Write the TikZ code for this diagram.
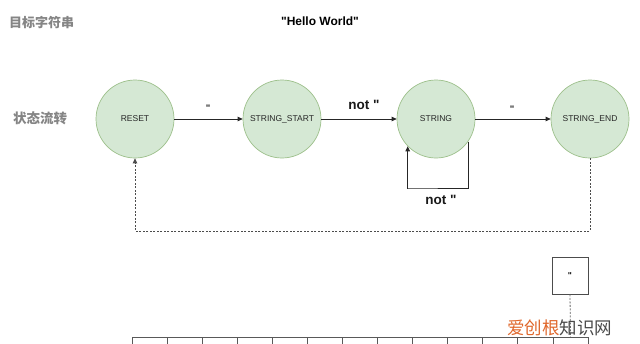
\documentclass[tikz,border=0pt]{standalone}
\usepackage{fontspec}
\setmainfont{Liberation Sans}[Ligatures=TeXOff]
\newfontfamily\cjk{Noto Sans CJK SC}
\usetikzlibrary{arrows.meta}
\definecolor{stfill}{HTML}{D5E8D4}
\definecolor{stdraw}{HTML}{9DC08B}
\definecolor{titlegray}{HTML}{858585}
\definecolor{wmorange}{HTML}{E0672B}
\definecolor{wmgray}{HTML}{4A4A4A}
\begin{document}
\begin{tikzpicture}[x=1pt,y=-1pt,
  state/.style={circle,draw=stdraw,fill=stfill,line width=0.7pt,minimum size=78pt,inner sep=0pt,font=\fontsize{8.5}{10}\selectfont,text=black!85},
  flow/.style={draw=black!85,line width=0.8pt,-{Triangle[length=5pt,width=4.5pt]}},
  ret/.style={draw=black!70,line width=0.8pt,dash pattern=on 2pt off 1.5pt,-{Triangle[length=5pt,width=4.5pt]}},
  link/.style={draw=black!60,line width=0.8pt,dash pattern=on 2pt off 1.5pt},
  title/.style={anchor=west,font=\cjk\bfseries\fontsize{13}{15}\selectfont,text=titlegray,inner sep=0pt},
  biglab/.style={font=\bfseries\fontsize{13.5}{15}\selectfont,text=black!90,inner sep=0pt},
  qlab/.style={font=\bfseries\fontsize{9.5}{10}\selectfont,text=black!85,inner sep=0pt},
  cell/.style={draw=black!65,line width=0.8pt,minimum width=35.08pt,minimum height=36pt,inner sep=0pt},
  qbox/.style={draw=black!70,line width=0.8pt,minimum width=36pt,minimum height=37pt,inner sep=0pt,font=\bfseries\fontsize{8.5}{9}\selectfont}
]
\clip (0,0) rectangle (640,343);
\fill[white] (0,0) rectangle (640,343);

% titles
\node[title] (t1) at (9,22.7) {目标字符串};
\node[title,font=\cjk\bfseries\fontsize{13.5}{15}\selectfont] (t2) at (13,118) {状态流转};
\node[font=\bfseries\fontsize{12}{14}\selectfont,text=black,inner sep=0pt] (hw) at (320,21.5) {"Hello World"};

% states
\node[state] (reset) at (135,119) {RESET};
\node[state] (sstart) at (282,119) {STRING\_START};
\node[state] (str) at (436,119) {STRING};
\node[state] (send) at (590,119) {STRING\_END};

% transitions
\draw[flow] (reset) -- (sstart);
\draw[flow] (sstart) -- (str);
\draw[flow] (str) -- (send);
\node[qlab] (l1) at (208,108) {"};
\node[biglab] (l2) at (364,105) {not "};
\node[qlab] (l3) at (512,109) {"};

% self loop
\coordinate (loopc) at (408,188);
\draw[flow] (str.-35) |- (loopc) -| (str.-136);
\node[biglab] (l4) at (441,200) {not "};

% return
\coordinate (retc) at (362,231);
\draw[ret] (send.south) |- (retc) -| (reset.south);

% character box and array
\node[qbox] (qb) at (570,275.5) {"};
\foreach \i in {1,...,13}
  \node[cell] (c\i) at ({132+35.08*(\i-0.5)},355) {};
\draw[link] (qb.south) -- (c13.north);

% watermark
\node[anchor=west,inner sep=0pt,font=\cjk\fontsize{17.5}{20}\selectfont] (wm) at (507,328) {\textcolor{wmorange}{爱创根}\textcolor{wmgray}{知识网}};
\end{tikzpicture}
\end{document}
